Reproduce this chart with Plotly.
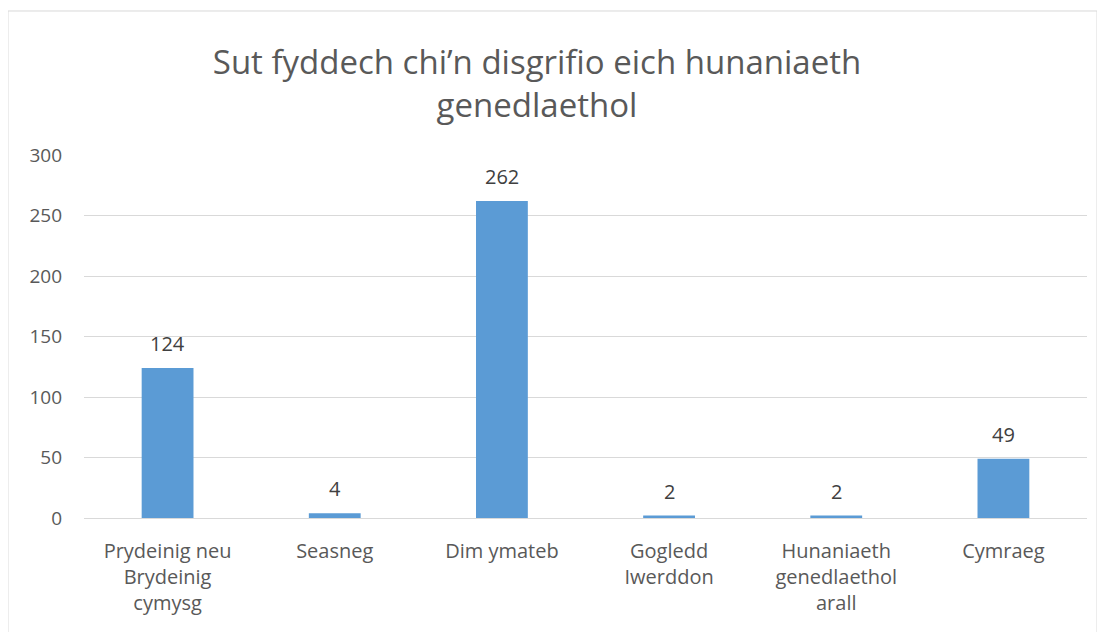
import plotly.graph_objects as go

categories = ["Prydeinig neu<br>Brydeinig<br>cymysg", "Seasneg", "Dim ymateb",
              "Gogledd<br>Iwerddon", "Hunaniaeth<br>genedlaethol<br>arall", "Cymraeg"]
values = [124, 4, 262, 2, 2, 49]
y_ticks = [0, 50, 100, 150, 200, 250, 300]
title_text = "Sut fyddech chi’n disgrifio eich hunaniaeth<br>genedlaethol"

FONT = "Open Sans"
W, H = 1097, 624  # page body adds an 8px margin

fig = go.Figure()
fig.add_trace(go.Bar(x=categories, y=values, marker=dict(color="#5B9BD5", line=dict(width=0)),
                     hoverinfo="x+y"))

for c, v in zip(categories, values):
    fig.add_annotation(x=c, y=v, text=str(v), showarrow=False, yanchor="bottom", yshift=9,
                       font=dict(family=FONT, size=20, color="#404040"))

fig.add_shape(type="rect", xref="paper", yref="paper", x0=-0.0758, x1=1.0100,
              y0=-0.40, y1=1.3967, line=dict(color="#D9D9D9", width=1), layer="below")

fig.update_layout(
    width=W, height=H,
    margin=dict(l=76, r=18, t=147, b=114),
    paper_bgcolor="white", plot_bgcolor="white",
    bargap=0.69,
    showlegend=False,
    title=dict(text=title_text, x=529 / W, xanchor="center", y=1 - 66 / H, yanchor="middle",
               font=dict(family=FONT, size=33, color="#595959")),
    font=dict(family=FONT, size=20, color="#595959"),
    xaxis=dict(showgrid=False, showline=False, ticks="", tickfont=dict(size=20, color="#595959"),
               ticklabelstandoff=19),
    yaxis=dict(range=[0, 300], tickvals=y_ticks, showgrid=True, gridcolor="#D9D9D9", gridwidth=1,
               zeroline=True, zerolinecolor="#D9D9D9", zerolinewidth=1, ticks="",
               tickfont=dict(size=19, color="#595959"), ticklabelstandoff=21),
)

fig.write_html("out.html")
